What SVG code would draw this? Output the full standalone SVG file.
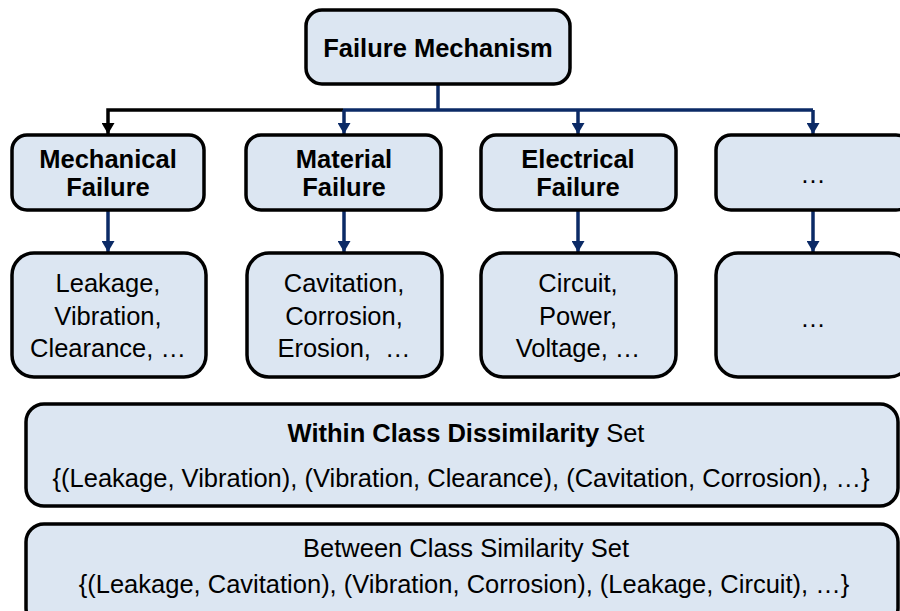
<svg xmlns="http://www.w3.org/2000/svg" width="900" height="611" viewBox="0 0 900 611">
  <style>
    .box { fill: #DCE6F2; stroke: #000000; stroke-width: 3.5; }
    .t { font-family: "Liberation Sans", Arial, sans-serif; font-size: 25.5px; fill: #000000; text-anchor: middle; }
    .b { font-weight: bold; }
    .navy { fill: none; stroke: #0B2A66; stroke-width: 3.5; }
    .blk { fill: none; stroke: #000000; stroke-width: 3.5; }
  </style>
  <defs>
    <marker id="arrNavy" markerUnits="userSpaceOnUse" markerWidth="12" markerHeight="13" refX="11" refY="6.5" orient="auto">
      <path d="M0,0 L11,6.5 L0,13 Z" fill="#0B2A66"/>
    </marker>
    <marker id="arrBlk" markerUnits="userSpaceOnUse" markerWidth="12" markerHeight="13" refX="11" refY="6.5" orient="auto">
      <path d="M0,0 L11,6.5 L0,13 Z" fill="#000000"/>
    </marker>
  </defs>

  <rect width="900" height="611" fill="#FFFFFF"/>

  <!-- connectors -->
  <g id="connectors">
    <path class="navy" d="M438,84 V110"/>
    <path class="navy" d="M343,110 H813"/>
    <path class="blk" d="M343,110 H108 V134" marker-end="url(#arrBlk)"/>
    <path class="navy" d="M344,110 V134" marker-end="url(#arrNavy)"/>
    <path class="navy" d="M578,110 V134" marker-end="url(#arrNavy)"/>
    <path class="navy" d="M813,110 V134" marker-end="url(#arrNavy)"/>
    <path class="navy" d="M108,210 V252" marker-end="url(#arrNavy)"/>
    <path class="navy" d="M344,210 V252" marker-end="url(#arrNavy)"/>
    <path class="navy" d="M578,210 V252" marker-end="url(#arrNavy)"/>
    <path class="navy" d="M813,210 V252" marker-end="url(#arrNavy)"/>
  </g>

  <!-- root -->
  <g id="failure-mechanism">
    <rect class="box" x="306" y="10" width="264" height="74" rx="16"/>
    <text class="t b" x="438" y="57">Failure Mechanism</text>
  </g>

  <!-- categories -->
  <g id="mechanical-failure">
    <rect class="box" x="12" y="135" width="192" height="75" rx="15"/>
    <text class="t b" x="108" y="168">Mechanical</text>
    <text class="t b" x="108" y="196">Failure</text>
  </g>
  <g id="material-failure">
    <rect class="box" x="246" y="135" width="195" height="75" rx="15"/>
    <text class="t b" x="344" y="168">Material</text>
    <text class="t b" x="344" y="196">Failure</text>
  </g>
  <g id="electrical-failure">
    <rect class="box" x="481" y="135" width="195" height="75" rx="15"/>
    <text class="t b" x="578" y="168">Electrical</text>
    <text class="t b" x="578" y="196">Failure</text>
  </g>
  <g id="other-failure">
    <rect class="box" x="716" y="135" width="195" height="75" rx="15"/>
    <text class="t" x="813" y="183">…</text>
  </g>

  <!-- examples -->
  <g id="mechanical-examples">
    <rect class="box" x="12" y="253" width="194" height="124" rx="22"/>
    <text class="t" x="108" y="292">Leakage,</text>
    <text class="t" x="108" y="325">Vibration,</text>
    <text class="t" x="108" y="357">Clearance, …</text>
  </g>
  <g id="material-examples">
    <rect class="box" x="247" y="253" width="195" height="124" rx="22"/>
    <text class="t" x="344" y="292">Cavitation,</text>
    <text class="t" x="344" y="325">Corrosion,</text>
    <text class="t" x="344" y="357" xml:space="preserve">Erosion,  …</text>
  </g>
  <g id="electrical-examples">
    <rect class="box" x="481" y="253" width="195" height="124" rx="22"/>
    <text class="t" x="578" y="292">Circuit,</text>
    <text class="t" x="578" y="325">Power,</text>
    <text class="t" x="578" y="357">Voltage, …</text>
  </g>
  <g id="other-examples">
    <rect class="box" x="716" y="253" width="195" height="124" rx="22"/>
    <text class="t" x="813" y="327">…</text>
  </g>

  <!-- pair sets -->
  <g id="within-class-set">
    <rect class="box" x="26" y="404" width="872" height="102" rx="18"/>
    <text class="t" x="466" y="442"><tspan class="b">Within Class Dissimilarity</tspan> Set</text>
    <text class="t" x="461" y="487">{(Leakage, Vibration), (Vibration, Clearance), (Cavitation, Corrosion), …}</text>
  </g>
  <g id="between-class-set">
    <rect class="box" x="26" y="524" width="872" height="102" rx="18"/>
    <text class="t" x="466" y="557">Between Class Similarity Set</text>
    <text class="t" x="464" y="593">{(Leakage, Cavitation), (Vibration, Corrosion), (Leakage, Circuit), …}</text>
  </g>
</svg>
